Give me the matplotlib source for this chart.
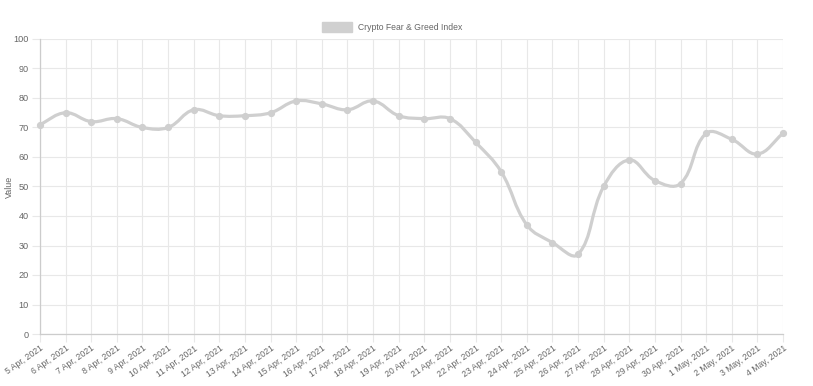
import matplotlib.pyplot as plt
import numpy as np
from matplotlib.path import Path
from matplotlib.patches import PathPatch, Patch

plt.rcParams['font.family'] = ['Liberation Sans', 'DejaVu Sans']

# data
dates = ['5 Apr, 2021', '6 Apr, 2021', '7 Apr, 2021', '8 Apr, 2021', '9 Apr, 2021',
         '10 Apr, 2021', '11 Apr, 2021', '12 Apr, 2021', '13 Apr, 2021', '14 Apr, 2021',
         '15 Apr, 2021', '16 Apr, 2021', '17 Apr, 2021', '18 Apr, 2021', '19 Apr, 2021',
         '20 Apr, 2021', '21 Apr, 2021', '22 Apr, 2021', '23 Apr, 2021', '24 Apr, 2021',
         '25 Apr, 2021', '26 Apr, 2021', '27 Apr, 2021', '28 Apr, 2021', '29 Apr, 2021',
         '30 Apr, 2021', '1 May, 2021', '2 May, 2021', '3 May, 2021', '4 May, 2021']
values = [71, 75, 72, 73, 70, 70, 76, 74, 74, 75, 79, 78, 76, 79, 74,
          73, 73, 65, 55, 37, 31, 27, 50, 59, 52, 51, 68, 66, 61, 68]
series_name = 'Crypto Fear & Greed Index'

line_color = '#cfcfcf'
grid_color = '#e8e8e8'
text_color = '#666666'

fig = plt.figure(figsize=(8.13, 3.86), dpi=100)
ax = fig.add_axes([40 / 813, (386 - 334) / 386, (783 - 40) / 813, (334 - 39) / 386])

x = np.arange(len(values))
y = np.array(values, dtype=float)

# Chart.js style spline (tension 0.4), computed in pixel-ish units
sx, sy = 743 / (len(values) - 1), 2.95
px, py = x * sx, y * sy
t = 0.4
c1, c2 = [], []
for i in range(len(values)):
    ip = max(i - 1, 0)
    inx = min(i + 1, len(values) - 1)
    d01 = np.hypot(px[i] - px[ip], py[i] - py[ip])
    d12 = np.hypot(px[inx] - px[i], py[inx] - py[i])
    tot = d01 + d12
    s01 = d01 / tot if tot else 0
    s12 = d12 / tot if tot else 0
    fa, fb = t * s01, t * s12
    c1.append((px[i] - fa * (px[inx] - px[ip]), py[i] - fa * (py[inx] - py[ip])))
    c2.append((px[i] + fb * (px[inx] - px[ip]), py[i] + fb * (py[inx] - py[ip])))

verts = [(x[0], y[0])]
codes = [Path.MOVETO]
for i in range(1, len(values)):
    verts += [(c2[i - 1][0] / sx, c2[i - 1][1] / sy), (c1[i][0] / sx, c1[i][1] / sy), (x[i], y[i])]
    codes += [Path.CURVE4] * 3
ax.add_patch(PathPatch(Path(verts, codes), fill=False, edgecolor=line_color, lw=2.3,
                       capstyle='round', joinstyle='round', zorder=3))
ax.plot(x, y, 'o', color=line_color, ms=4.2, zorder=4, clip_on=False)

ax.set_xlim(0, len(values) - 1)
ax.set_ylim(0, 100)
ax.set_yticks(range(0, 101, 10))
ax.set_xticks(x)
ax.set_xticklabels(dates, rotation=35, ha='right', va='top', rotation_mode='anchor')
ax.tick_params(axis='both', colors=grid_color, labelcolor=text_color, length=6, width=0.8)
ax.tick_params(axis='x', pad=1, labelsize=6.2)
ax.tick_params(axis='y', pad=2, labelsize=6.6)
ax.grid(True, color=grid_color, lw=0.8)
ax.set_axisbelow(True)
for s in ['top', 'right']:
    ax.spines[s].set_visible(False)
for s in ['left', 'bottom']:
    ax.spines[s].set_color('#cccccc')
    ax.spines[s].set_linewidth(0.9)

ax.set_ylabel('Value', color=text_color, fontsize=6.4)
ax.yaxis.set_label_coords(-0.035, 0.5)

ax.legend(handles=[Patch(facecolor='#d0d0d0', edgecolor='#d0d0d0')], labels=[series_name],
          loc='center', bbox_to_anchor=(0.474, 1.04), frameon=False,
          fontsize=6.2, labelcolor=text_color, handlelength=3.5, handleheight=1.3,
          handletextpad=0.6)

fig.savefig('out.png', dpi=100)
